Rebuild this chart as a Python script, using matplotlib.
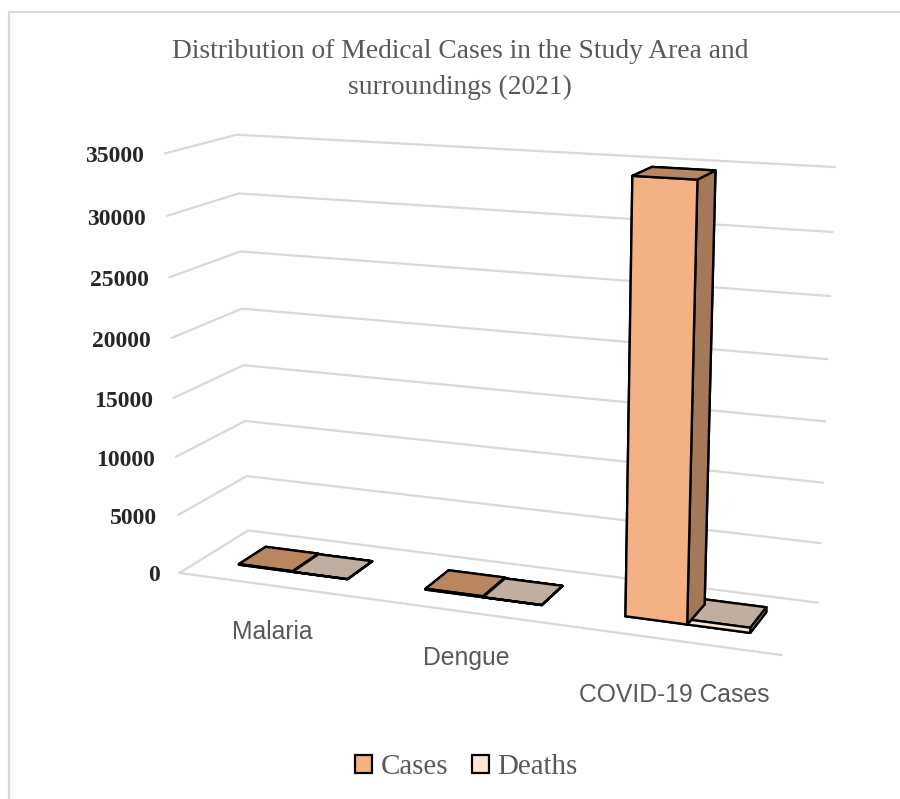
# Medical cases, 3D column chart
import matplotlib.pyplot as plt
from matplotlib.patches import Patch
from matplotlib.lines import Line2D
from mpl_toolkits.mplot3d import proj3d

categories = ["Malaria", "Dengue", "COVID-19 Cases"]
cases = [60, 80, 34800]
deaths = [5, 5, 420]
z_ticks = [0, 5000, 10000, 15000, 20000, 25000, 30000, 35000]

SERIF = "Liberation Serif"
GRID = "#D9D9D9"
TEXT = "#595959"

plt.rcParams["grid.color"] = GRID
plt.rcParams["grid.linewidth"] = 1.6

fig = plt.figure(figsize=(9, 7.99), dpi=100)

# Chart border, open at the bottom and right
fig.add_artist(Line2D([9 / 900, 9 / 900, 1], [0, 1 - 12 / 799, 1 - 12 / 799], color=GRID, linewidth=1.6))

ax = fig.add_axes([82 / 900, 9 / 799, 800 / 900, 800 / 799], projection="3d")
ax.set_proj_type("persp", focal_length=0.5)
ax.view_init(elev=14, azim=-68.6)
ax.set_box_aspect((643, 154, 440), zoom=0.964)
ax.set_xlim(0, 3, view_margin=0)
ax.set_ylim(0, 1, view_margin=0)
ax.set_zlim(0, 35000, view_margin=0)

ax.set_xticks([])
ax.set_yticks([])
ax.set_zticks(z_ticks)
ax.tick_params(axis="z", color=(0, 0, 0, 0))
for tick in ax.zaxis.get_major_ticks():
    tick.label1.set_visible(False)
for axis in (ax.xaxis, ax.yaxis, ax.zaxis):
    axis.set_pane_color((1, 1, 1, 0))
    axis.pane.set_edgecolor("none")
    axis.line.set_color("none")
    axis.label.set_visible(False)
    axis.get_offset_text().set_visible(False)

# Front edge of the floor
ax.plot([0, 3], [0, 0], [0, 0], color=GRID, linewidth=1.6)

# Faces in bar3d order: bottom, top, front, back, left, right
cases_faces = ["#F4B183", "#B98660", "#F4B183", "#A6785A", "#A6785A", "#A6785A"]
deaths_faces = ["#FBE5D6", "#C0AFA1", "#FBE5D6", "#B5A598", "#B5A598", "#B5A598"]
bar_w = 0.295
for i in range(len(categories)):
    ax.bar3d(i + 0.212, 0.3, 0, bar_w, 0.4, cases[i], color=cases_faces, shade=False,
             edgecolor="black", linewidth=1.7)
    ax.bar3d(i + 0.507, 0.3, 0, bar_w, 0.4, deaths[i], color=deaths_faces, shade=False,
             edgecolor="black", linewidth=1.7)


def to_screen(x, y, z):
    sx, sy, _ = proj3d.proj_transform(x, y, z, ax.get_proj())
    return sx, sy


# Value labels hang off the front-left corner, category labels below the front edge
for v in z_ticks:
    ax.annotate(str(v), to_screen(0, 0, v), xytext=(-20, -3), textcoords="offset pixels", annotation_clip=False,
                ha="right", va="center", family=SERIF, weight="bold", fontsize=17, color="#262626")

label_shift = [(1, -47), (2, -46), (2, -55)]
for i, name in enumerate(categories):
    ax.annotate(name, to_screen(i + 0.5, 0, 0), xytext=label_shift[i], textcoords="offset pixels",
                annotation_clip=False, ha="center", va="center", family="Liberation Sans",
                fontsize=17.8, color=TEXT)

fig.text(460 / 900, 1 - 69.5 / 799, "Distribution of Medical Cases in the Study Area and\nsurroundings (2021)",
         ha="center", va="center", family=SERIF, fontsize=19.8, color=TEXT, linespacing=1.59)

handles = [Patch(facecolor="#F4B183", edgecolor="black", linewidth=1.6, label="Cases"),
           Patch(facecolor="#FBE5D6", edgecolor="black", linewidth=1.6, label="Deaths")]
fig.legend(handles=handles, loc="center", bbox_to_anchor=(466.5 / 900, 1 - 767 / 799), ncol=2, frameon=False,
           prop={"family": SERIF, "size": 20.9}, labelcolor=TEXT, handlelength=0.58, handleheight=0.58,
           handletextpad=0.3, columnspacing=0.8)

fig.savefig("out.png", dpi=100)
